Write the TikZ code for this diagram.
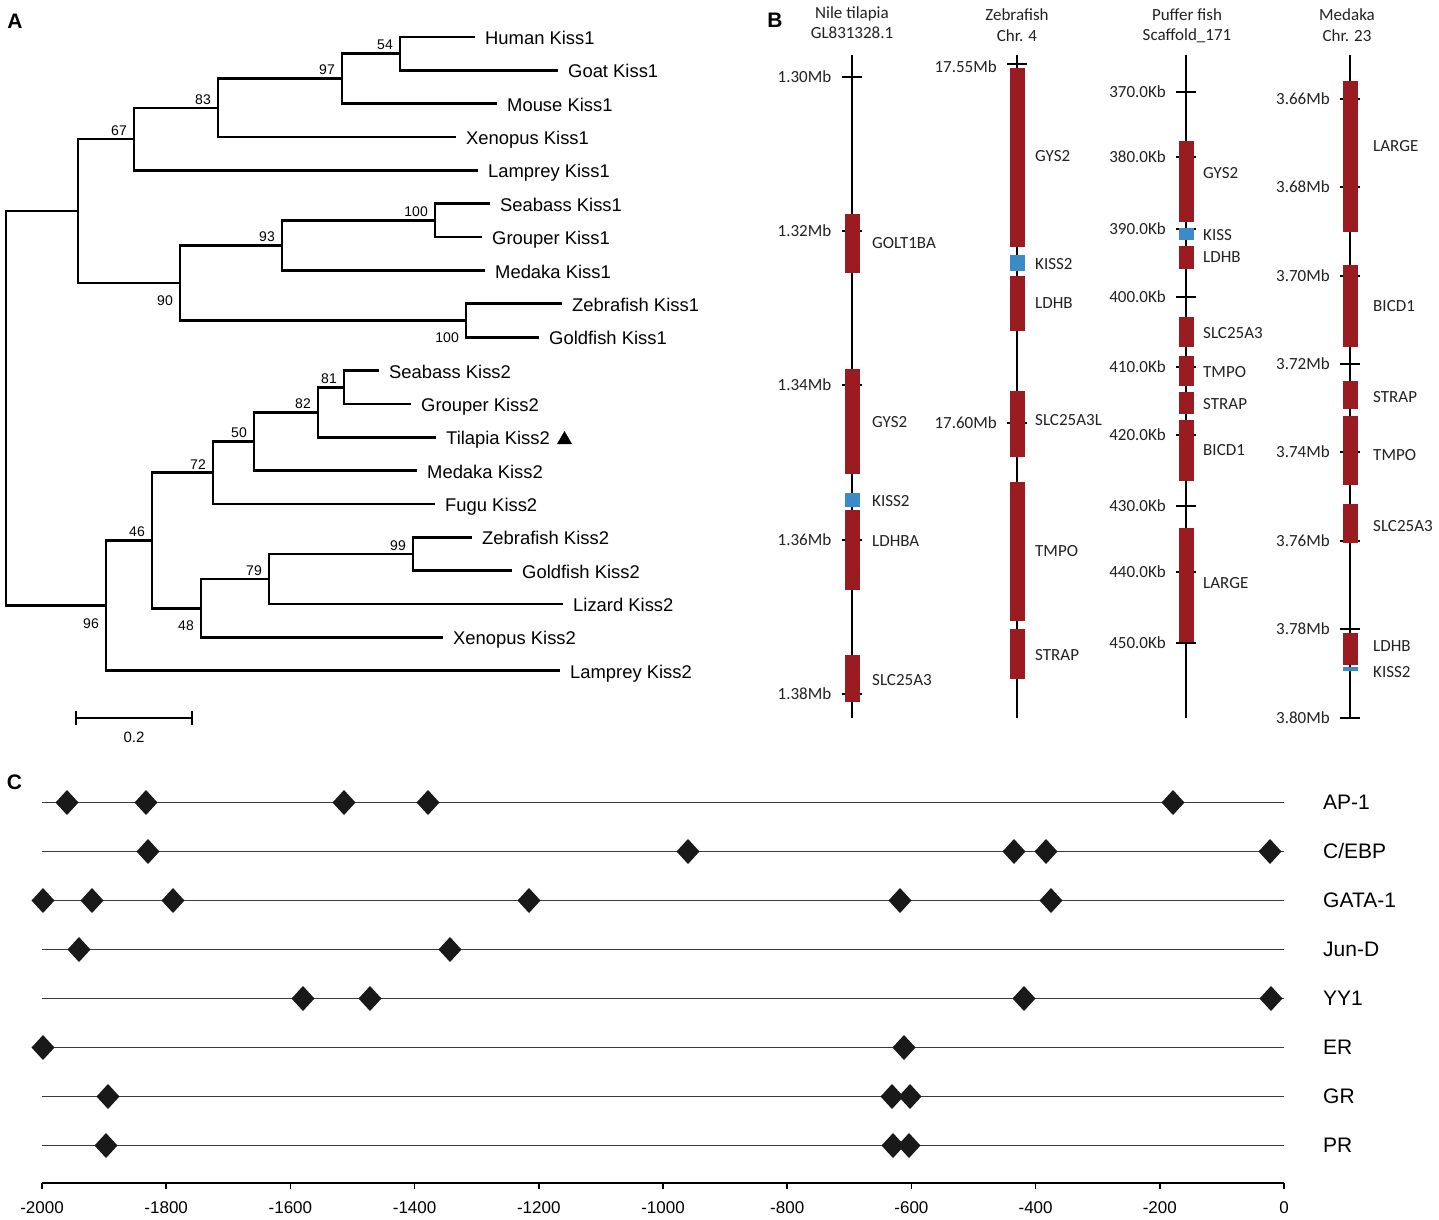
\documentclass[tikz,border=0pt]{standalone}
\usepackage{fontspec}
\setmainfont{Liberation Sans}
\newfontfamily\carl{Carlito}
\usetikzlibrary{calc}
\definecolor{genered}{HTML}{9B1C20}
\definecolor{kissblue}{HTML}{3B8BC8}
\definecolor{rowgray}{HTML}{3A3A3A}
\definecolor{btext}{HTML}{222222}
\begin{document}
\begin{tikzpicture}[x=1pt,y=-1pt,
  branch/.style={line width=2.7pt},
  tip/.style={font=\fontsize{18.4}{20}\selectfont, anchor=base west, inner sep=0},
  bsa/.style={font=\fontsize{14}{16}\selectfont, anchor=south east, inner sep=0},
  bsb/.style={font=\fontsize{14}{16}\selectfont, anchor=north east, inner sep=0},
  plabel/.style={font=\bfseries\fontsize{21}{24}\selectfont, inner sep=0},
  chrom/.style={line width=2.6pt},
  chtick/.style={line width=2.4pt},
  glabel/.style={font=\carl\fontsize{17}{19}\selectfont, text=btext, anchor=west, inner sep=0},
  tlabel/.style={font=\carl\fontsize{17}{19}\selectfont, text=btext, anchor=east, inner sep=0},
  ctitle/.style={font=\carl\fontsize{17}{19}\selectfont, text=btext, anchor=base, inner sep=0},
  rowline/.style={line width=1.8pt, rowgray},
  rowlabel/.style={font=\fontsize{21}{24}\selectfont, anchor=base west, inner sep=0},
  axlabel/.style={font=\fontsize{17}{19}\selectfont, anchor=base, inner sep=0},
  diam/.style={fill=black!90}
]
\fill[white] (0,0) rectangle (1439,1219);

% ---------------- Panel labels
\node[plabel] (pA) at (15,21) {A};
\node[plabel] (pB) at (775,20) {B};
\node[plabel] (pC) at (14.5,782.5) {C};

% ---------------- Panel A : tree
\coordinate (root) at (6,408);
\coordinate (nK1) at (78,211);
\coordinate (n67) at (134,139);
\coordinate (n83) at (218,107.9);
\coordinate (n97) at (342,78.7);
\coordinate (n54) at (400,53.7);
\coordinate (n90) at (180,283);
\coordinate (n93) at (282,245.4);
\coordinate (n100a) at (435,220.4);
\coordinate (n100b) at (466,320.5);
\coordinate (n96) at (106,605.6);
\coordinate (n46) at (152,540.4);
\coordinate (n72) at (213,472.7);
\coordinate (n50) at (254,441.4);
\coordinate (n82) at (318,412.2);
\coordinate (n81) at (344,387.2);
\coordinate (n48) at (201,608.2);
\coordinate (n79) at (269,579);
\coordinate (n99) at (413,554);

\coordinate (tHuman) at (475,37);
\coordinate (tGoat) at (558,70.4);
\coordinate (tMouse) at (497,103.7);
\coordinate (tXenA) at (456,137);
\coordinate (tLampA) at (478,170.4);
\coordinate (tSeaA) at (490,203.7);
\coordinate (tGroA) at (482,237);
\coordinate (tMedA) at (485,270.5);
\coordinate (tZebA) at (562,303.8);
\coordinate (tGoldA) at (539,337.2);
\coordinate (tSeaB) at (379,370.5);
\coordinate (tGroB) at (411,403.9);
\coordinate (tTilB) at (436,437.2);
\coordinate (tMedB) at (417,470.6);
\coordinate (tFugB) at (435,504);
\coordinate (tZebB) at (472,537.3);
\coordinate (tGoldB) at (512,570.6);
\coordinate (tLizB) at (563,604);
\coordinate (tXenB) at (443,637.4);
\coordinate (tLampB) at (560,670.7);

\foreach \p/\c in {root/nK1, root/n96, nK1/n67, nK1/n90, n67/n83, n67/tLampA,
  n83/n97, n83/tXenA, n97/n54, n97/tMouse, n54/tHuman, n54/tGoat,
  n90/n93, n90/n100b, n93/n100a, n93/tMedA, n100a/tSeaA, n100a/tGroA,
  n100b/tZebA, n100b/tGoldA, n96/n46, n96/tLampB, n46/n72, n46/n48,
  n72/n50, n72/tFugB, n50/n82, n50/tMedB, n82/n81, n82/tTilB,
  n81/tSeaB, n81/tGroB, n48/n79, n48/tXenB, n79/n99, n79/tLizB,
  n99/tZebB, n99/tGoldB}
  \draw[branch] (\p) |- (\c);

\foreach \t/\lab in {tHuman/Human Kiss1, tGoat/Goat Kiss1, tMouse/Mouse Kiss1,
  tXenA/Xenopus Kiss1, tLampA/Lamprey Kiss1, tSeaA/Seabass Kiss1,
  tGroA/Grouper Kiss1, tMedA/Medaka Kiss1, tZebA/Zebrafish Kiss1,
  tGoldA/Goldfish Kiss1, tSeaB/Seabass Kiss2, tGroB/Grouper Kiss2,
  tTilB/Tilapia Kiss2, tMedB/Medaka Kiss2, tFugB/Fugu Kiss2,
  tZebB/Zebrafish Kiss2, tGoldB/Goldfish Kiss2, tLizB/Lizard Kiss2,
  tXenB/Xenopus Kiss2, tLampB/Lamprey Kiss2}
  \node[tip] (l\t) at ($(\t)+(10,7.5)$) {\lab};

\fill (557,444) -- (572,444) -- (564.5,431) -- cycle;

\foreach \n/\v in {n54/54, n97/97, n83/83, n67/67, n93/93, n100a/100, n46/46,
  n72/72, n50/50, n82/82, n81/81, n79/79, n99/99}
  \node[bsa] (b\n) at ($(\n)+(-7,-3.5)$) {\v};
\foreach \n/\v in {n90/90, n100b/100, n96/96, n48/48}
  \node[bsb] (b\n) at ($(\n)+(-7,12.5)$) {\v};

% scale bar
\coordinate (sbL) at (76,718);
\coordinate (sbR) at (192,718);
\draw[line width=2.4pt] (sbL) -- (sbR);
\draw[line width=2.4pt] ($(sbL)+(0,-7)$) -- ($(sbL)+(0,7)$);
\draw[line width=2.4pt] ($(sbR)+(0,-7)$) -- ($(sbR)+(0,7)$);
\node[font=\fontsize{15}{17}\selectfont, anchor=base, inner sep=0] (sbT) at (134,742) {0.2};

% ---------------- Panel B : chromosomes
% titles
\node[ctitle] (t1a) at (852,18) {Nile tilapia};
\node[ctitle] (t1b) at (852,38.5) {GL831328.1};
\node[ctitle] (t2a) at (1017,20) {Zebrafish};
\node[ctitle] (t2b) at (1017,41) {Chr. 4};
\node[ctitle] (t3a) at (1187,20) {Puffer fish};
\node[ctitle] (t3b) at (1187,40.5) {Scaffold\_171};
\node[ctitle] (t4a) at (1347,20) {Medaka};
\node[ctitle] (t4b) at (1347,41) {Chr. 23};

% axes
\foreach \cx in {852,1017,1186,1350}
  \draw[chrom] (\cx,55) -- (\cx,718);

% ticks and tick labels
\foreach \y/\lab in {77/1.30Mb, 231/1.32Mb, 385/1.34Mb, 540/1.36Mb, 694/1.38Mb}{
  \draw[chtick] (842,\y) -- (862,\y);
  \node[tlabel] at (831.5,\y) {\lab};}
\foreach \y/\ly/\lab in {64/66.5/17.55Mb, 423/423/17.60Mb}{
  \draw[chtick] (1007,\y) -- (1027,\y);
  \node[tlabel] at (997,\ly) {\lab};}
\foreach \y/\lab in {92/370.0Kb, 157/380.0Kb, 229/390.0Kb, 297/400.0Kb, 367/410.0Kb,
  435/420.0Kb, 506/430.0Kb, 572/440.0Kb, 643/450.0Kb}{
  \draw[chtick] (1176,\y) -- (1196,\y);
  \node[tlabel] at (1166,\y) {\lab};}
\foreach \y/\lab in {99/3.66Mb, 187/3.68Mb, 276/3.70Mb, 364/3.72Mb, 452/3.74Mb,
  541/3.76Mb, 629/3.78Mb, 718/3.80Mb}{
  \draw[chtick] (1340,\y) -- (1360,\y);
  \node[tlabel] at (1330,\y) {\lab};}

% genes: column/label x/top/bottom/colour/label/label y
\foreach \cx/\lx/\ya/\yb/\col/\lab/\ly in {
  852/872/214/273/genered/GOLT1BA/243,
  852/872/369/474/genered/GYS2/422.5,
  852/872/493/507/kissblue/KISS2/501,
  852/872/510/590/genered/LDHBA/541.5,
  852/872/655/702/genered/SLC25A3/680,
  1017/1035/68/247/genered/GYS2/156.5,
  1017/1035/255/271/kissblue/KISS2/264,
  1017/1035/276/331/genered/LDHB/303.5,
  1017/1035/391/457/genered/SLC25A3L/420.5,
  1017/1035/482/621/genered/TMPO/551.5,
  1017/1035/629/679/genered/STRAP/655,
  1186/1203/141/222/genered/GYS2/173.5,
  1186/1203/228/240/kissblue/KISS/235,
  1186/1203/246/269/genered/LDHB/257.5,
  1186/1203/317/347/genered/SLC25A3/333.5,
  1186/1203/356/386/genered/TMPO/372,
  1186/1203/392/414/genered/STRAP/404,
  1186/1203/420/481/genered/BICD1/450,
  1186/1203/528/642/genered/LARGE/583,
  1350/1373/81/232/genered/LARGE/146,
  1350/1373/265/347/genered/BICD1/306,
  1350/1373/381/409/genered/STRAP/397.5,
  1350/1373/416/485/genered/TMPO/455,
  1350/1373/504/543/genered/SLC25A3/526,
  1350/1373/633/665/genered/LDHB/646.5,
  1350/1373/667/671/kissblue/KISS2/672}{
  \fill[\col] ({\cx-7.5},\ya) rectangle ({\cx+7.5},\yb);
  \node[glabel] at (\lx,\ly) {\lab};}

% ---------------- Panel C : promoter elements
\foreach \y in {802.5,851.5,900.5,949.5,998.5,1047.5,1096.5,1145.5}
  \draw[rowline] (42,\y) -- (1284,\y);

\foreach \y/\xs in {802.5/{67,146,344,428,1173},
  851.5/{148,688,1014,1046,1270},
  900.5/{43,92,173,529,900,1051},
  949.5/{79,450},
  998.5/{303,370,1024,1271},
  1047.5/{43,904},
  1096.5/{108,892,910},
  1145.5/{106,893,909}}{
  \foreach \x in \xs
    \fill[diam] ({\x-11.5},\y) -- (\x,{\y-12.5}) -- ({\x+11.5},\y) -- (\x,{\y+12.5}) -- cycle;}

\node[rowlabel] (rAP) at (1323,809.5) {AP-1};
\node[rowlabel] (rCE) at (1323,858.5) {C/EBP};
\node[rowlabel] (rGA) at (1323,907.5) {GATA-1};
\node[rowlabel] (rJD) at (1323,956.5) {Jun-D};
\node[rowlabel] (rYY) at (1323,1005.5) {YY1};
\node[rowlabel] (rER) at (1323,1054.5) {ER};
\node[rowlabel] (rGR) at (1323,1103.5) {GR};
\node[rowlabel] (rPR) at (1323,1152.5) {PR};

% axis
\draw[line width=1.6pt] (42,1183) -- (1284,1183);
\foreach \k/\lab in {0/-2000,1/-1800,2/-1600,3/-1400,4/-1200,5/-1000,6/-800,7/-600,8/-400,9/-200,10/0}{
  \draw[line width=1.6pt] ({42+124.2*\k},1183) -- ({42+124.2*\k},1189);
  \node[axlabel] at ({42+124.2*\k},1213.5) {\lab};}
\end{tikzpicture}
\end{document}
